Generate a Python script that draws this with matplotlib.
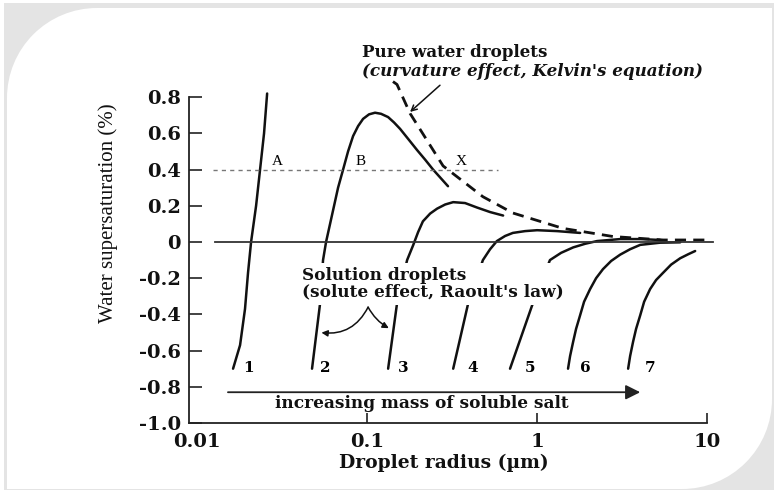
import numpy as np
import matplotlib
matplotlib.use("Agg")
import matplotlib.pyplot as plt
from matplotlib.patches import Rectangle, Circle

# Koehler curves: radius (um), supersaturation (%)
r1 = [0.01629, 0.01791, 0.01915, 0.01995, 0.02079, 0.02225, 0.02348, 0.02478, 0.02584]
s1 = [-0.70, -0.57, -0.37, -0.17, 0.0, 0.20, 0.40, 0.60, 0.82]

r2 = [0.04746, 0.05292, 0.05509, 0.05739, 0.06059, 0.06397, 0.06753, 0.07228, 0.07730,
      0.08275, 0.08854, 0.09474, 0.1027, 0.1114, 0.1208, 0.1329, 0.1441, 0.1563,
      0.1742, 0.1967, 0.2194, 0.2444, 0.2992]
s2 = [-0.70, -0.34, -0.10, 0.0, 0.10, 0.20, 0.30, 0.40, 0.50,
      0.585, 0.64, 0.68, 0.705, 0.714, 0.708, 0.69, 0.66, 0.625,
      0.57, 0.508, 0.455, 0.40, 0.308]

r3 = [0.133, 0.150, 0.172, 0.187, 0.1995, 0.213, 0.235, 0.258, 0.288, 0.321, 0.377,
      0.444, 0.53, 0.631]
s3 = [-0.70, -0.34, -0.10, -0.016, 0.054, 0.114, 0.157, 0.184, 0.207, 0.22, 0.215,
      0.19, 0.165, 0.146]

r4 = [0.321, 0.393, 0.48, 0.529, 0.58, 0.648, 0.72, 0.85, 1.0, 1.31, 1.79]
s4 = [-0.70, -0.34, -0.10, -0.04, 0.005, 0.033, 0.05, 0.06, 0.065, 0.06, 0.05]

r5 = [0.693, 0.935, 1.19, 1.384, 1.63, 1.916, 2.25, 3.08, 4.04, 5.29]
s5 = [-0.70, -0.35, -0.10, -0.06, -0.03, -0.01, 0.005, 0.016, 0.016, 0.011]

r6 = [1.52, 1.563, 1.63, 1.695, 1.79, 1.889, 2.05, 2.223, 2.44, 2.725, 3.08, 3.524,
      4.04, 5.29, 6.94]
s6 = [-0.70, -0.63, -0.55, -0.48, -0.405, -0.33, -0.26, -0.20, -0.15, -0.105, -0.07,
      -0.04, -0.016, -0.004, -0.002]

r7 = [3.43, 3.524, 3.67, 3.82, 4.04, 4.26, 4.62, 5.01, 5.51, 6.14, 6.94, 7.73, 8.50]
s7 = [-0.70, -0.63, -0.55, -0.48, -0.405, -0.33, -0.26, -0.21, -0.17, -0.125, -0.09,
      -0.068, -0.05]

# pure water (Kelvin) curve
rk = [0.142, 0.150, 0.179, 0.28, 0.48, 0.72, 1.42, 2.80, 5.51, 10.4]
sk = [0.886, 0.87, 0.71, 0.42, 0.25, 0.16, 0.075, 0.03, 0.011, 0.011]

curves = [(r1, s1), (r2, s2), (r3, s3), (r4, s4), (r5, s5), (r6, s6), (r7, s7)]
curve_labels = ["1", "2", "3", "4", "5", "6", "7"]
label_r = [0.01866, 0.0529, 0.152, 0.387, 0.85, 1.79, 4.31]
label_s = -0.696

point_labels = ["A", "B", "X"]
point_r = [0.0276, 0.085, 0.334]
point_s = 0.442

yticks = [-1.0, -0.8, -0.6, -0.4, -0.2, 0, 0.2, 0.4, 0.6, 0.8]
ytick_labels = ["-1.0", "-0.8", "-0.6", "-0.4", "-0.2", "0", "0.2", "0.4", "0.6", "0.8"]
xticks = [0.01, 0.1, 1, 10]
xtick_labels = ["0.01", "0.1", "1", "10"]

W, H = 778, 493
BOLD = dict(family="DejaVu Serif", fontweight="bold")
INK = "#111111"
XMIN, XMAX = 0.00897, 11.9

fig = plt.figure(figsize=(W / 100, H / 100), dpi=100)

# card background with rounded top-left / bottom-right corners
bg = fig.add_axes([0, 0, 1, 1], zorder=-5)
bg.set_xlim(0, W)
bg.set_ylim(H, 0)
bg.axis("off")
x0, y0, x1, y1, R = 7, 8, 772, 489, 90
bg.add_patch(Rectangle((4, 3), W - 8, H - 6, fc="#e4e4e4", ec="none"))
bg.add_patch(Rectangle((x0 + R, y0), x1 - x0 - R, y1 - y0 - R, fc="white", ec="none"))
bg.add_patch(Rectangle((x0, y0 + R), x1 - x0 - R, y1 - y0 - R, fc="white", ec="none"))
bg.add_patch(Circle((x0 + R, y0 + R), R, fc="white", ec="none"))
bg.add_patch(Circle((x1 - R, y1 - R), R, fc="white", ec="none"))

ax = fig.add_axes([189 / W, 1 - 423 / H, (720 - 189) / W, (423 - 68) / H])
ax.set_xscale("log")
ax.set_xlim(XMIN, XMAX)
ax.set_ylim(-1.0, 0.961)
ax.patch.set_alpha(0)

for r, s in curves:
    ax.plot(r, s, color=INK, lw=1.8, solid_capstyle="round", solid_joinstyle="round")
ax.plot(rk, sk, color=INK, lw=2.0, linestyle=(0, (4, 2.6)))
ax.plot([0.01276, 10.8], [0, 0], color="#333333", lw=1.3)
ax.plot([0.0124, 0.59], [0.4, 0.4], color="#777777", lw=1.0, linestyle=(0, (3, 3)))

for lab, r in zip(curve_labels, label_r):
    ax.text(r, label_s, lab, fontsize=11, va="center", ha="left", **BOLD)
for lab, r in zip(point_labels, point_r):
    ax.text(r, point_s, lab, fontsize=11, va="center", ha="left", family="Liberation Serif")

# annotations
ax.text(0.0935, 1.049, "Pure water droplets", fontsize=12.1, va="center", ha="left",
        color=INK, **BOLD)
ax.text(0.0935, 0.939, "(curvature effect, Kelvin's equation)", fontsize=12.1,
        va="center", ha="left", color=INK, style="italic", **BOLD)
ax.annotate("", xy=(0.174, 0.708), xytext=(0.276, 0.876),
            arrowprops=dict(arrowstyle="->", color=INK, lw=1.1))

ax.text(0.0415, -0.232, "Solution droplets\n(solute effect, Raoult's law)", fontsize=12.2,
        va="center", ha="left", color=INK, linespacing=0.95, zorder=5,
        bbox=dict(fc="white", ec="none", pad=3), **BOLD)
ax.annotate("", xy=(0.0529, -0.50), xytext=(0.1014, -0.36),
            arrowprops=dict(arrowstyle="-|>", color=INK, lw=1.1, shrinkA=0, shrinkB=1,
                            connectionstyle="arc3,rad=-0.35", mutation_scale=9))
ax.annotate("", xy=(0.1365, -0.48), xytext=(0.1014, -0.36),
            arrowprops=dict(arrowstyle="-|>", color=INK, lw=1.1, shrinkA=0, shrinkB=1,
                            connectionstyle="arc3,rad=0.15", mutation_scale=9))

ax.annotate("", xy=(4.04, -0.83), xytext=(0.0152, -0.83),
            arrowprops=dict(arrowstyle="-|>", color="#222222", lw=1.3, mutation_scale=22,
                            shrinkA=0, shrinkB=0))
ax.text(0.2094, -0.89, "increasing mass of soluble salt", fontsize=12.2, va="center",
        ha="center", color=INK, **BOLD)

# axes styling
for side in ["top", "right"]:
    ax.spines[side].set_visible(False)
ax.spines["left"].set_bounds(-1.0, 0.8)
ax.spines["bottom"].set_bounds(XMIN, 10)
for side in ["left", "bottom"]:
    ax.spines[side].set_linewidth(1.3)
    ax.spines[side].set_color("#222222")
ax.set_yticks(yticks)
ax.set_yticklabels(ytick_labels)
ax.set_xticks(xticks)
ax.set_xticklabels(xtick_labels)
ax.minorticks_off()
ax.tick_params(axis="y", direction="in", length=9, width=1.2, pad=6, colors="#222222")
ax.tick_params(axis="x", direction="in", length=7, width=1.2, pad=7, colors="#222222")
ax.xaxis.get_major_ticks()[0].tick1line.set_visible(False)
for t in ax.get_xticklabels() + ax.get_yticklabels():
    t.set_family("DejaVu Serif")
    t.set_fontweight("bold")
    t.set_fontsize(14)
    t.set_color(INK)

fig.text(108 / W, 1 - 213 / H, "Water supersaturation (%)", rotation=90, ha="center",
         va="center", fontsize=15, family="Liberation Serif", color=INK)
fig.text(444 / W, 1 - 463 / H, "Droplet radius (\u00b5m)", ha="center", va="center",
         fontsize=13.5, color=INK, **BOLD)

fig.savefig("out.png", dpi=100)
